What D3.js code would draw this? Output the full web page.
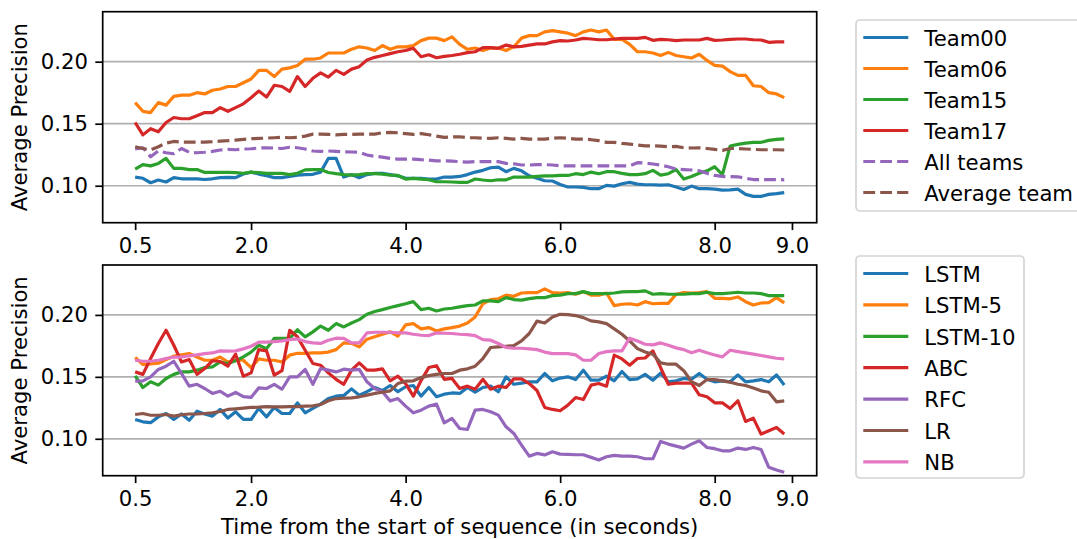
<!DOCTYPE html>
<html>
<head>
<meta charset="utf-8">
<script src="https://cdn.jsdelivr.net/npm/d3@7"></script>
<style>
body { margin: 0; background: #fff; }
text { font-family: "DejaVu Sans", sans-serif; }
</style>
</head>
<body>
<script>
// time steps (seconds) shared by every series
var times = [0.5,0.6,0.7,0.8,0.9,1.0,1.1,1.2,1.3,1.4,1.5,1.6,1.7,1.8,1.9,2.0,2.1,2.2,2.3,2.4,2.5,2.6,2.7,2.8,2.9,
  3.0,3.1,3.2,3.3,3.4,3.5,3.6,3.7,3.8,3.9,4.0,4.1,4.2,4.3,4.4,4.5,4.6,4.7,4.8,4.9,5.0,5.1,5.2,5.3,5.4,
  5.5,5.6,5.7,5.8,5.9,6.0,6.1,6.2,6.3,6.4,6.5,6.6,6.7,6.8,6.9,7.0,7.1,7.2,7.3,7.4,7.5,7.6,7.7,7.8,7.9,
  8.0,8.1,8.2,8.3,8.4,8.5,8.6,8.7,8.8,8.9];
var xTicks = [0.5, 2.0, 4.0, 6.0, 8.0, 9.0];
var yTicks = [0.10, 0.15, 0.20];

// top panel: teams
var team00 = [0.107,0.106,0.1024,0.1046,0.103,0.1065,0.1056,0.1055,0.1056,0.105,0.1056,0.1065,0.1067,0.1065,0.1094,0.111,0.1094,0.108,0.1065,0.1065,0.1075,0.1086,0.109,0.1092,0.111,0.122,0.122,0.107,0.109,
  0.1065,0.109,0.110,0.110,0.109,0.108,0.106,0.106,0.106,0.1054,0.1054,0.107,0.107,0.1075,0.109,0.111,0.1124,0.1145,0.115,0.1113,0.114,0.112,0.108,0.106,0.104,0.1038,0.101,0.099,
  0.099,0.0987,0.0976,0.0976,0.1003,0.0997,0.1016,0.1027,0.1013,0.1008,0.1008,0.1005,0.1008,0.099,0.097,0.0997,0.0976,0.0976,0.0973,0.0965,0.0967,0.0973,0.093,0.0914,0.0914,0.093,0.0936,0.0944];
var team06 = [0.167,0.160,0.159,0.167,0.165,0.172,0.173,0.173,0.175,0.174,0.177,0.178,0.180,0.180,0.183,0.186,0.193,0.193,0.188,0.194,0.195,0.197,0.202,0.202,0.203,0.207,0.207,0.207,
  0.210,0.212,0.211,0.209,0.213,0.210,0.212,0.212,0.213,0.217,0.219,0.219,0.217,0.220,0.214,0.210,0.211,0.209,0.211,0.211,0.209,0.212,0.219,0.221,0.221,0.224,0.225,0.224,
  0.223,0.221,0.224,0.2255,0.224,0.2255,0.218,0.218,0.214,0.208,0.208,0.207,0.205,0.2075,0.205,0.204,0.203,0.206,0.201,0.197,0.1965,0.192,0.189,0.189,0.1806,0.180,0.175,0.174,0.171];
var team15 = [0.1134,0.117,0.116,0.118,0.122,0.114,0.114,0.113,0.113,0.1107,0.1107,0.1107,0.1107,0.1105,0.110,0.111,0.1105,0.110,0.110,0.110,0.109,0.110,0.1128,0.113,0.113,0.1107,0.1097,0.109,
  0.1086,0.109,0.1097,0.1097,0.1094,0.1086,0.1083,0.1054,0.106,0.1054,0.1048,0.1032,0.1032,0.103,0.1027,0.1027,0.1054,0.1046,0.104,0.1048,0.1048,0.107,0.107,0.107,0.1075,0.108,0.108,0.1083,
  0.1083,0.1097,0.109,0.111,0.1097,0.1113,0.1113,0.110,0.109,0.109,0.1097,0.1124,0.1086,0.1097,0.113,0.1054,0.1075,0.110,0.112,0.1153,0.109,0.132,0.1333,0.1344,0.135,0.135,0.1366,0.1374,0.1377];
var team17 = [0.151,0.141,0.146,0.1435,0.151,0.155,0.154,0.154,0.1565,0.159,0.159,0.163,0.160,0.163,0.166,0.171,0.1763,0.1715,0.181,0.180,0.176,0.188,0.180,0.1866,0.191,0.1876,0.193,0.1898,
  0.194,0.196,0.2013,0.2035,0.205,0.2065,0.208,0.209,0.2108,0.204,0.2056,0.2032,0.2043,0.205,0.206,0.2073,0.208,0.2113,0.2113,0.2108,0.2134,0.212,0.2124,0.2134,0.2143,0.2143,0.216,0.217,
  0.2167,0.2175,0.2188,0.2183,0.2177,0.2177,0.2183,0.2188,0.2188,0.2188,0.2196,0.2172,0.218,0.2177,0.217,0.2175,0.2175,0.2175,0.2188,0.2172,0.2175,0.218,0.2183,0.2183,0.2177,0.2175,0.2156,0.216,0.216];
var allTeams = [0.1296,0.1306,0.1234,0.128,0.1266,0.1258,0.130,0.127,0.1266,0.127,0.1277,0.1288,0.1293,0.129,0.1296,0.1298,0.1304,0.1306,0.1304,0.130,0.131,0.1306,0.1296,0.128,0.1277,0.128,0.1277,0.1274,
  0.1272,0.127,0.1248,0.1237,0.1231,0.122,0.1215,0.1215,0.1215,0.121,0.1207,0.120,0.120,0.1199,0.1194,0.119,0.1194,0.1194,0.1194,0.1194,0.118,0.1177,0.1167,0.1167,0.117,0.117,0.1167,0.116,
  0.116,0.116,0.116,0.116,0.116,0.116,0.116,0.116,0.116,0.1186,0.1183,0.1175,0.1167,0.1153,0.1134,0.113,0.1127,0.112,0.110,0.1083,0.1075,0.1073,0.1072,0.106,0.105,0.105,0.105,0.105,0.1048];
var avgTeam = [0.1314,0.130,0.1288,0.1314,0.1344,0.1357,0.1352,0.1352,0.1352,0.1352,0.1355,0.136,0.1363,0.1368,0.1373,0.1379,0.1381,0.1384,0.1387,0.139,0.1387,0.139,0.140,0.1416,0.1416,0.1414,0.141,0.1414,
  0.1414,0.1416,0.1416,0.1416,0.1427,0.143,0.1427,0.142,0.1414,0.142,0.1411,0.140,0.139,0.1393,0.1395,0.1387,0.1387,0.1384,0.1382,0.1387,0.1382,0.1376,0.1382,0.1376,0.1376,0.1376,0.1382,0.1387,
  0.1382,0.1376,0.1376,0.1371,0.1363,0.135,0.135,0.1341,0.1336,0.1328,0.1322,0.1322,0.132,0.1314,0.1317,0.1306,0.1304,0.1306,0.130,0.1293,0.1285,0.130,0.130,0.1296,0.1293,0.129,0.129,0.129,0.1288];

// bottom panel: models
var lstm = [0.1156,0.1137,0.113,0.1177,0.1204,0.1156,0.120,0.115,0.1223,0.120,0.1183,0.1237,0.1167,0.1218,0.1156,0.1156,0.1245,0.1177,0.1253,0.1204,0.1204,0.129,0.121,0.1245,0.128,0.1325,0.1344,0.135,
  0.1403,0.1352,0.138,0.1414,0.139,0.143,0.138,0.142,0.143,0.1344,0.1414,0.134,0.136,0.137,0.1366,0.1414,0.1376,0.1414,0.1425,0.138,0.150,0.144,0.145,0.146,0.146,0.1527,0.1468,0.149,
  0.150,0.1478,0.1554,0.1473,0.1473,0.1505,0.1468,0.1543,0.1478,0.1483,0.152,0.1473,0.153,0.146,0.1468,0.1487,0.148,0.1527,0.148,0.146,0.1468,0.146,0.1516,0.146,0.1468,0.1478,0.146,0.1516,0.1435];
var lstm5 = [0.1656,0.160,0.1605,0.161,0.164,0.1667,0.1677,0.1688,0.166,0.1634,0.1634,0.166,0.162,0.1634,0.1634,0.1575,0.1645,0.1634,0.1634,0.162,0.1675,0.169,0.169,0.1693,0.1693,0.170,0.172,0.1774,
  0.177,0.1742,0.1804,0.1823,0.1844,0.1863,0.1828,0.192,0.193,0.1887,0.1898,0.187,0.1887,0.1898,0.191,0.1935,0.1984,0.209,0.2124,0.213,0.216,0.215,0.2177,0.218,0.218,0.221,0.218,0.2177,
  0.218,0.2167,0.2188,0.216,0.216,0.2177,0.2075,0.2086,0.209,0.208,0.2107,0.209,0.2093,0.2093,0.2167,0.218,0.2177,0.218,0.2188,0.2134,0.2134,0.213,0.2145,0.2107,0.208,0.2096,0.210,0.214,0.2097];
var lstm10 = [0.1508,0.1414,0.146,0.1433,0.1487,0.152,0.154,0.154,0.1554,0.1575,0.158,0.162,0.1608,0.163,0.1661,0.170,0.1755,0.1728,0.181,0.181,0.181,0.188,0.1823,0.1863,0.191,0.1876,0.193,0.1903,
  0.1935,0.1962,0.2005,0.2027,0.2043,0.206,0.2075,0.209,0.2107,0.2043,0.2054,0.2032,0.2048,0.2054,0.2065,0.2075,0.208,0.2113,0.2113,0.2107,0.214,0.2124,0.212,0.2132,0.214,0.214,0.2156,0.216,
  0.2172,0.2172,0.2188,0.2172,0.2172,0.2172,0.2177,0.2186,0.2188,0.2188,0.2194,0.2167,0.2172,0.2167,0.2167,0.2167,0.2172,0.2172,0.2183,0.2172,0.2172,0.2177,0.2183,0.2177,0.2177,0.2172,0.2156,0.2156,0.2156];
var abc = [0.154,0.152,0.1648,0.1769,0.1876,0.1755,0.162,0.164,0.152,0.1567,0.163,0.1624,0.1586,0.1683,0.1505,0.1532,0.172,0.171,0.1513,0.155,0.1876,0.1823,0.1715,0.1608,0.1594,0.1532,0.148,0.144,
  0.1554,0.1613,0.1554,0.1554,0.1565,0.1468,0.1505,0.1446,0.1344,0.147,0.1575,0.159,0.148,0.1487,0.1406,0.1425,0.140,0.148,0.140,0.1425,0.1414,0.1484,0.1484,0.1446,0.139,0.1253,0.1237,0.1226,
  0.1272,0.1333,0.1317,0.1433,0.1446,0.1425,0.1675,0.1645,0.1594,0.1648,0.1652,0.171,0.1575,0.144,0.145,0.145,0.145,0.1355,0.1339,0.129,0.129,0.1245,0.1307,0.114,0.1167,0.1038,0.1065,0.1091,0.1038];
var rfc = [0.1465,0.1468,0.150,0.156,0.1586,0.1626,0.1527,0.1425,0.144,0.1406,0.1366,0.1384,0.1344,0.1374,0.134,0.1334,0.1411,0.1406,0.144,0.140,0.150,0.150,0.156,0.144,0.1567,0.1554,0.154,0.1562,
  0.1554,0.156,0.146,0.1406,0.138,0.1306,0.1325,0.1264,0.121,0.1231,0.1264,0.128,0.1129,0.1164,0.1083,0.1075,0.1231,0.1237,0.1218,0.1191,0.1097,0.1043,0.0949,0.086,0.0882,0.087,0.0895,0.0876,
  0.0874,0.0871,0.0871,0.085,0.0828,0.0855,0.0866,0.086,0.086,0.0855,0.0839,0.0839,0.0979,0.0957,0.0941,0.0925,0.0957,0.0984,0.093,0.092,0.0903,0.0903,0.0925,0.0914,0.093,0.0914,0.077,0.0748,0.073];
var lr = [0.1196,0.1204,0.119,0.119,0.1196,0.1183,0.1194,0.120,0.120,0.1204,0.121,0.122,0.1237,0.1242,0.1247,0.1253,0.1255,0.126,0.1258,0.1258,0.126,0.126,0.1263,0.1266,0.1277,0.1307,0.1325,0.1328,
  0.133,0.1339,0.1352,0.1366,0.1376,0.1387,0.1446,0.1465,0.1468,0.1494,0.151,0.152,0.1527,0.1527,0.1554,0.1565,0.1586,0.1648,0.1737,0.1742,0.1747,0.1753,0.179,0.185,0.195,0.1935,0.1984,0.2005,
  0.2003,0.1995,0.1978,0.1952,0.1944,0.193,0.1887,0.1844,0.179,0.1728,0.170,0.1683,0.1613,0.1602,0.1602,0.155,0.1462,0.143,0.1478,0.1478,0.1468,0.1457,0.144,0.143,0.141,0.1387,0.1376,0.1298,0.1306];
var nb = [0.1634,0.1626,0.1626,0.1634,0.1648,0.166,0.166,0.167,0.1677,0.1688,0.1693,0.171,0.1707,0.171,0.1726,0.1747,0.178,0.178,0.1785,0.179,0.180,0.1806,0.1785,0.1774,0.177,0.1796,0.1812,0.181,
  0.1774,0.1774,0.1855,0.186,0.186,0.186,0.1855,0.1855,0.1844,0.1836,0.1833,0.1855,0.1852,0.185,0.1844,0.1841,0.1833,0.180,0.1796,0.177,0.1737,0.1731,0.1731,0.1726,0.172,0.170,0.1688,0.1688,
  0.1688,0.1677,0.1634,0.1634,0.1688,0.1704,0.171,0.171,0.1812,0.179,0.1763,0.1758,0.1774,0.1755,0.1734,0.172,0.1694,0.1715,0.1694,0.1677,0.1661,0.1715,0.1704,0.1694,0.1683,0.1672,0.1661,0.165,0.1645];

var topSeries = [
  {name:'Team00', values:team00, color:'#1f77b4'},
  {name:'Team06', values:team06, color:'#ff7f0e'},
  {name:'Team15', values:team15, color:'#2ca02c'},
  {name:'Team17', values:team17, color:'#d62728'},
  {name:'All teams', values:allTeams, color:'#9467bd', dash:'11.8,5.1'},
  {name:'Average team', values:avgTeam, color:'#8c564b', dash:'11.8,5.1'}
];
var bottomSeries = [
  {name:'LSTM', values:lstm, color:'#1f77b4'},
  {name:'LSTM-5', values:lstm5, color:'#ff7f0e'},
  {name:'LSTM-10', values:lstm10, color:'#2ca02c'},
  {name:'ABC', values:abc, color:'#d62728'},
  {name:'RFC', values:rfc, color:'#9467bd'},
  {name:'LR', values:lr, color:'#8c564b'},
  {name:'NB', values:nb, color:'#e377c2'}
];

var W = 1077, H = 539;
var fs = 21.2;      // 10pt at the figure's scale
var lw = 3.2;       // 1.5pt line width
var tick = 7.4;

var svg = d3.select('body').append('svg').attr('width', W).attr('height', H);

var left = 102.7, right = 816.7;
var x = d3.scaleLinear().domain([0.08, 9.32]).range([left, right]);

function panel(top, bottom, series, legendBox, showXLabel) {
  var y = d3.scaleLinear().domain([0.0702, 0.2403]).range([bottom, top]);
  var g = svg.append('g');

  // horizontal grid
  g.selectAll('line.grid').data(yTicks).enter().append('line')
    .attr('class', 'grid')
    .attr('x1', left).attr('x2', right)
    .attr('y1', d => y(d)).attr('y2', d => y(d))
    .attr('stroke', '#b0b0b0').attr('stroke-width', 1.7);

  var line = d3.line()
    .x((d, i) => x(times[i]))
    .y(d => y(d));

  series.forEach(function(s) {
    g.append('path')
      .attr('d', line(s.values))
      .attr('fill', 'none')
      .attr('stroke', s.color)
      .attr('stroke-width', lw)
      .attr('stroke-linejoin', 'round')
      .attr('stroke-dasharray', s.dash || null);
  });

  // frame
  g.append('rect')
    .attr('x', left).attr('y', top)
    .attr('width', right - left).attr('height', bottom - top)
    .attr('fill', 'none').attr('stroke', '#000').attr('stroke-width', 1.7);

  var xAxis = g.append('g').attr('transform', 'translate(0,' + bottom + ')')
    .call(d3.axisBottom(x).tickValues(xTicks).tickFormat(d3.format('.1f'))
      .tickSize(tick).tickPadding(tick));
  var yAxis = g.append('g').attr('transform', 'translate(' + left + ',0)')
    .call(d3.axisLeft(y).tickValues(yTicks).tickFormat(d3.format('.2f'))
      .tickSize(tick).tickPadding(tick));
  [xAxis, yAxis].forEach(function(a) {
    a.select('.domain').remove();
    a.selectAll('line').attr('stroke', '#000').attr('stroke-width', 1.7);
    a.selectAll('text').attr('font-size', fs).attr('fill', '#000')
      .style('font-family', '"DejaVu Sans", sans-serif');
  });

  g.append('text')
    .attr('transform', 'translate(27,' + ((top + bottom) / 2) + ') rotate(-90)')
    .attr('text-anchor', 'middle')
    .attr('font-size', fs)
    .text('Average Precision');

  if (showXLabel) {
    g.append('text')
      .attr('x', (left + right) / 2).attr('y', 534)
      .attr('text-anchor', 'middle')
      .attr('font-size', fs)
      .text('Time from the start of sequence (in seconds)');
  }

  // legend
  var lg = svg.append('g');
  lg.append('rect')
    .attr('x', legendBox.x).attr('y', legendBox.y)
    .attr('width', legendBox.w).attr('height', legendBox.h)
    .attr('rx', 4).attr('fill', '#fff')
    .attr('stroke', '#d4d4d4').attr('stroke-width', 1.7);
  var rows = lg.selectAll('g.row').data(series).enter().append('g')
    .attr('class', 'row')
    .attr('transform', (d, i) => 'translate(0,' + (legendBox.y + legendBox.first + i * legendBox.pitch) + ')');
  rows.append('line')
    .attr('x1', 863.3).attr('x2', 908.3)
    .attr('stroke', d => d.color).attr('stroke-width', lw)
    .attr('stroke-dasharray', d => d.dash || null);
  rows.append('text')
    .attr('x', 924.3).attr('y', 8.3)
    .attr('font-size', fs)
    .text(d => d.name);
}

panel(11.7, 222.7, topSeries, {x:856, y:20, w:230, h:191, first:17.5, pitch:31}, false);
panel(265, 475.7, bottomSeries, {x:856, y:256, w:168, h:222, first:17.5, pitch:31.4}, true);
</script>
</body>
</html>
